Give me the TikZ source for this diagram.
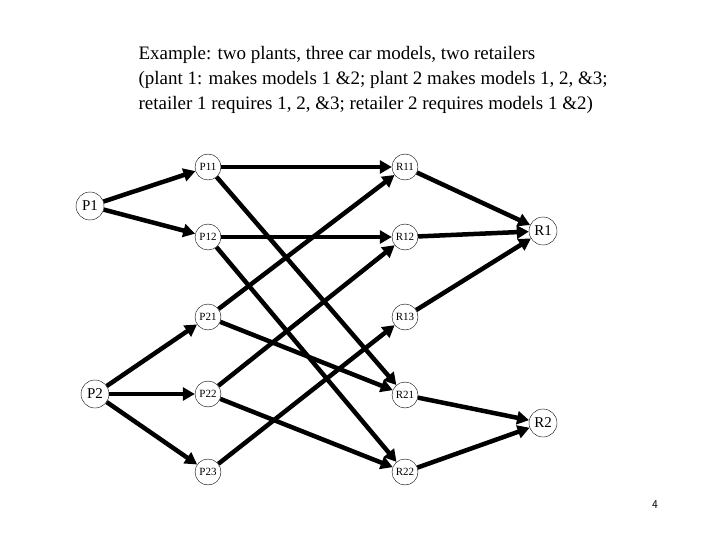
\documentclass[tikz,border=0pt]{standalone}
\usepackage{fontspec}
\setmainfont{Liberation Serif}
\usetikzlibrary{arrows.meta}
\begin{document}
\begin{tikzpicture}[x=1pt,y=-1pt,
  sm/.style={circle,draw,thin,inner sep=0pt,minimum size=26pt,font=\fontsize{11}{12}\selectfont},
  bg/.style={circle,draw,thin,inner sep=0pt,minimum size=28pt,font=\fontsize{15}{16}\selectfont},
  ed/.style={line width=4.5pt,-{Triangle[length=12pt,width=13pt]}}]
\useasboundingbox (0,0) rectangle (720,540);
\node[anchor=west,align=left,font=\fontsize{19}{25}\selectfont] (title) at (135,80)
 {Example: two plants, three car models, two retailers\\
 (plant 1: makes models 1 \&2; plant 2 makes models 1, 2, \&3;\\
 retailer 1 requires 1, 2, \&3; retailer 2 requires models 1 \&2)};
\node[bg] (P1) at (90,206) {P1};
\node[bg] (P2) at (95,394) {P2};
\node[sm] (P11) at (208,167) {P11};
\node[sm] (P12) at (208,237) {P12};
\node[sm] (P21) at (208,317) {P21};
\node[sm] (P22) at (208,394) {P22};
\node[sm] (P23) at (208,472) {P23};
\node[sm] (R11) at (405,167) {R11};
\node[sm] (R12) at (405,237) {R12};
\node[sm] (R13) at (405,317) {R13};
\node[sm] (R21) at (405,395) {R21};
\node[sm] (R22) at (405,472) {R22};
\node[bg] (R1) at (543,231) {R1};
\node[bg] (R2) at (543,423) {R2};
\node[font=\sffamily\fontsize{12}{12}\selectfont] (pg) at (655,505) {4};
\foreach \a/\b in {P1/P11,P1/P12,P2/P21,P2/P22,P2/P23,P11/R11,P11/R21,P12/R12,P12/R22,P21/R11,P21/R21,P22/R12,P22/R22,P23/R13,R11/R1,R12/R1,R13/R1,R21/R2,R22/R2}
  \draw[ed] (\a) -- (\b);
\end{tikzpicture}
\end{document}
